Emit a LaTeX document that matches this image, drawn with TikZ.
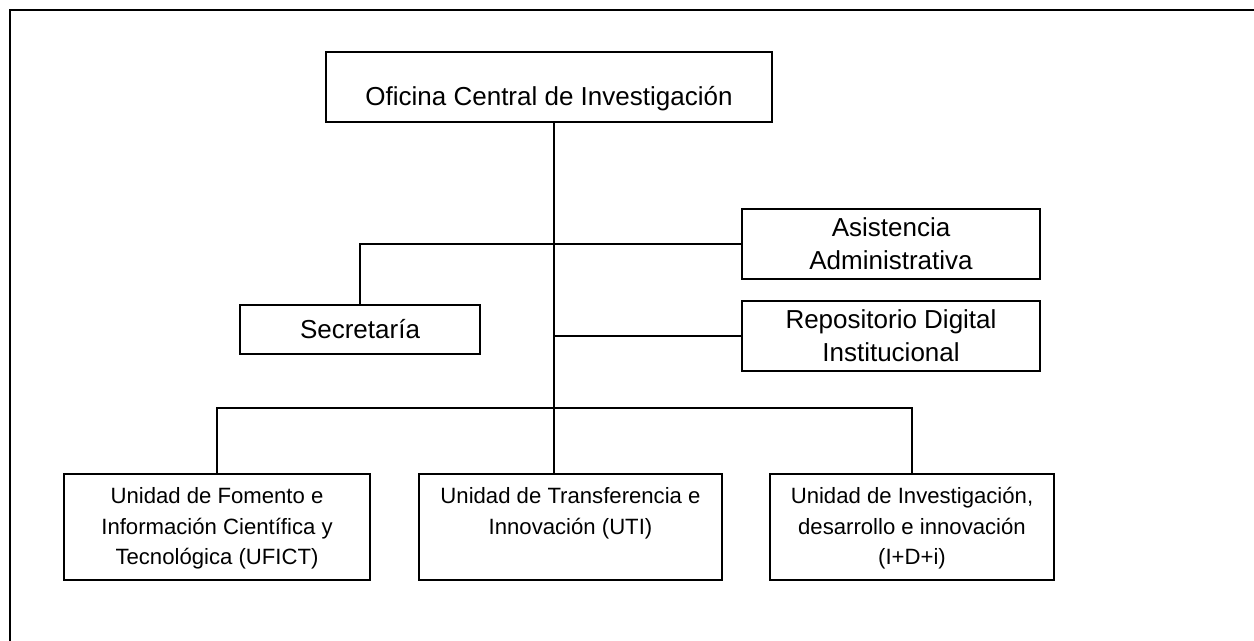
\documentclass[tikz,border=0pt]{standalone}
\usepackage{fontspec}
\setmainfont{Liberation Sans}
\usetikzlibrary{calc}

\begin{document}
\begin{tikzpicture}[x=0.02cm,y=-0.02cm,
  box/.style={draw,line width=0.9pt,inner sep=0pt},
  big/.style={font=\fontsize{14.8}{18.7}\selectfont,align=center},
  small/.style={font=\fontsize{12.6}{17.3}\selectfont,align=center,inner sep=0pt},
  link/.style={line width=1.1pt}]
\useasboundingbox (0,0) rectangle (1254,641);
\draw[line width=1.1pt] (10,641) -- (10,10) -- (1254,10);
\node[box,big,minimum width=8.92cm,text height=1.08cm,text depth=0.32cm] (oci) at (549,87) {Oficina Central de Investigación};
\node[box,big,minimum width=5.96cm,minimum height=1.4cm] (asis) at (891,244) {Asistencia\\Administrativa};
\node[box,big,minimum width=4.8cm,minimum height=0.98cm] (secr) at (360,329.5) {Secretaría};
\node[box,big,minimum width=5.96cm,minimum height=1.4cm] (repo) at (891,336) {Repositorio Digital\\Institucional};
\node[box,minimum width=6.12cm,minimum height=2.12cm] (ufict) at (217,527) {};
\node[box,minimum width=6.06cm,minimum height=2.12cm] (uti) at (570.5,527) {};
\node[box,minimum width=5.68cm,minimum height=2.12cm] (idi) at (912,527) {};
\node[small,anchor=north] (ufictt) at ($(ufict.north)+(0,14)$) {Unidad de Fomento e\\Información Científica y\\Tecnológica (UFICT)};
\node[small,anchor=north] (utit) at ($(uti.north)+(0,14)$) {Unidad de Transferencia e\\Innovación (UTI)};
\node[small,anchor=north] (idit) at ($(idi.north)+(0,14)$) {Unidad de Investigación,\\desarrollo e innovación\\(I+D+i)};
\coordinate (bus) at (554,408);
\draw[link] (oci.south -| bus) -- (bus |- uti.north);
\draw[link] (ufict.north) -- (ufict.north |- bus) -- (idi.north |- bus) -- (idi.north);
\draw[link] (asis.west) -- (asis.west -| secr.north) -- (secr.north);
\draw[link] (repo.west -| bus) -- (repo.west);
\end{tikzpicture}
\end{document}
